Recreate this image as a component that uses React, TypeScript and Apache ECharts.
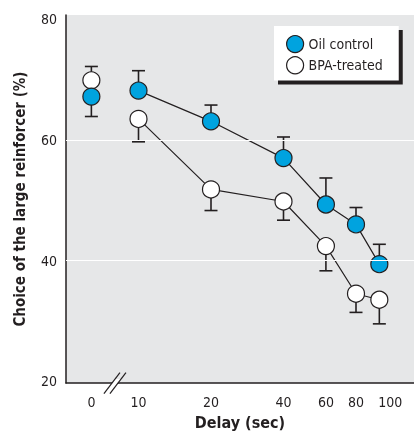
import React, { useEffect, useRef } from "react";
import * as echarts from "echarts";

const delays = [0, 10, 20, 40, 60, 80, 100];
const tickLabels = ["0", "10", "20", "40", "60", "80", "100"];
const oilMean = [67.2, 68.2, 63.1, 57.0, 49.3, 46.0, 39.4];
const oilErrEnd = [63.9, 71.5, 65.8, 60.5, 53.7, 48.8, 42.7];
const bpaMean = [69.9, 63.5, 51.8, 49.8, 42.4, 34.5, 33.5];
const bpaErrEnd = [72.2, 59.7, 48.3, 46.7, 38.3, 31.4, 29.5];
const yTicks = [20, 40, 60, 80];
const yGridLines = [40, 60];

const ZERO_POS = -0.65;
const pos = (d: number) => (d === 0 ? ZERO_POS : Math.log2(d / 10));
const BREAK_POS = ZERO_POS / 2;

const FONT = "'Liberation Sans Narrow', 'DejaVu Sans Condensed', 'Roboto', sans-serif";
const DARK = "#231f20";
const BLUE = "#00a3df";

export default function App() {
  const ref = useRef<HTMLDivElement>(null);
  useEffect(() => {
    if (!ref.current) return;
    const chart = echarts.init(ref.current, null, { renderer: "svg" });
    const pts = (means: number[], idx: number[]) => idx.map((i) => [pos(delays[i]), means[i]]);
    const errData = (means: number[], ends: number[]) => delays.map((d, i) => [pos(d), means[i], ends[i]]);
    const rest = [1, 2, 3, 4, 5, 6];
    const errSeries = (name: string, means: number[], ends: number[]) => ({
      type: "custom",
      name: name + "-err",
      z: 1,
      silent: true,
      data: errData(means, ends),
      clip: false,
      renderItem: (_p: any, api: any) => {
        const x = api.value(0);
        const a = api.coord([x, api.value(1)]);
        const b = api.coord([x, api.value(2)]);
        const st = { stroke: DARK, lineWidth: 1.6 };
        return {
          type: "group",
          children: [
            { type: "line", shape: { x1: a[0], y1: a[1], x2: b[0], y2: b[1] }, style: st },
            { type: "line", shape: { x1: b[0] - 6.5, y1: b[1], x2: b[0] + 6.5, y2: b[1] }, style: st },
          ],
        };
      },
    });
    const symStyle = (fill: string) => ({ color: fill, borderColor: DARK, borderWidth: 1.2, opacity: 1 });
    chart.setOption({
      animation: false,
      textStyle: { fontFamily: FONT },
      grid: { left: 66, right: 0, top: 15, bottom: 49, show: true, backgroundColor: "#e6e7e8", borderWidth: 0 },
      legend: {
        left: 274,
        top: 26,
        orient: "vertical",
        icon: "circle",
        itemWidth: 17,
        itemHeight: 17,
        itemGap: 3,
        itemTextGap: 10,
        padding: [9, 16, 6, 12],
        backgroundColor: "#ffffff",
        z: 5,
        data: ["Oil control", "BPA-treated"],
        textStyle: { fontFamily: FONT, fontSize: 14, color: DARK },
        itemStyle: { borderColor: DARK, borderWidth: 1.2 },
      },
      xAxis: {
        type: "value",
        min: -1,
        max: 3.8,
        name: "Delay (sec)",
        nameLocation: "middle",
        nameGap: 25,
        nameTextStyle: { fontFamily: FONT, fontSize: 16, fontWeight: "bold", color: DARK },
        axisLine: { show: true, onZero: false, lineStyle: { color: DARK, width: 1.5 } },
        axisTick: { show: false },
        splitLine: { show: false },
        axisLabel: {
          customValues: delays.map(pos),
          margin: 12,
          fontSize: 14,
          color: DARK,
          fontFamily: FONT,
          formatter: (v: number) => {
            const i = delays.findIndex((d) => Math.abs(pos(d) - v) < 1e-6);
            const t = i >= 0 ? tickLabels[i] : "";
            return i === delays.length - 1 ? "{r|" + t + "}" : t;
          },
          rich: { r: { fontSize: 14, color: DARK, fontFamily: FONT, padding: [0, 0, 0, 22] } },
        },
      },
      yAxis: {
        type: "value",
        min: 19.67,
        max: 80.74,
        name: "Choice of the large reinforcer (%)",
        nameLocation: "middle",
        nameGap: 39,
        nameTextStyle: { fontFamily: FONT, fontSize: 15, fontWeight: "bold", color: DARK },
        axisLine: { show: true, onZero: false, lineStyle: { color: DARK, width: 1.5 } },
        axisTick: { show: false },
        splitLine: { show: false },
        axisLabel: {
          customValues: yTicks,
          margin: 9,
          fontSize: 14,
          color: DARK,
          fontFamily: FONT,
          formatter: (v: number) => String(Math.round(v)),
        },
      },
      series: [
        {
          type: "line",
          name: "grid-lines",
          data: [],
          z: 0,
          silent: true,
          markLine: {
            silent: true,
            symbol: "none",
            label: { show: false },
            lineStyle: { color: "#ffffff", width: 1, type: "solid" },
            data: yGridLines.map((v) => ({ yAxis: v })),
          },
        },
        errSeries("BPA-treated", bpaMean, bpaErrEnd),
        errSeries("Oil control", oilMean, oilErrEnd),
        {
          type: "line",
          name: "BPA-treated",
          z: 3,
          data: pts(bpaMean, rest),
          symbol: "circle",
          symbolSize: 17,
          lineStyle: { color: DARK, width: 1.2 },
          itemStyle: symStyle("#ffffff"),
        },
        {
          type: "scatter",
          name: "BPA-treated",
          z: 3,
          data: pts(bpaMean, [0]),
          symbol: "circle",
          symbolSize: 17,
          itemStyle: symStyle("#ffffff"),
        },
        {
          type: "line",
          name: "Oil control",
          z: 4,
          data: pts(oilMean, rest),
          symbol: "circle",
          symbolSize: 17,
          lineStyle: { color: DARK, width: 1.2 },
          itemStyle: symStyle(BLUE),
        },
        {
          type: "scatter",
          name: "Oil control",
          z: 4,
          data: pts(oilMean, [0]),
          symbol: "circle",
          symbolSize: 17,
          itemStyle: symStyle(BLUE),
        },
      ],
    });
    const [bx, by] = chart.convertToPixel({ gridIndex: 0 }, [BREAK_POS, 19.67]) as number[];
    const lg = (chart as any).getModel().getComponent("legend");
    const lv = (chart as any).getViewOfComponentModel(lg);
    const rect = lv && lv.group ? lv.group.getBoundingRect() : null;
    const lx = rect ? lv.group.x + rect.x : 274;
    const ly = rect ? lv.group.y + rect.y : 26;
    const lw = rect ? rect.width : 126;
    const lh = rect ? rect.height : 52;
    const dx = 8, dy = 10.5, gap = 6;
    chart.setOption({
      graphic: [
        { type: "rect", z: 4, shape: { x: lx + 4, y: ly + 4, width: lw, height: lh }, style: { fill: DARK } },
        {
          type: "polygon",
          z: 10,
          shape: { points: [[bx - gap / 2 - 3, by + 4], [bx - gap / 2 + 3, by - 4], [bx + gap / 2 + 3, by - 4], [bx + gap / 2 - 3, by + 4]] },
          style: { fill: "#ffffff" },
        },
        { type: "line", z: 11, shape: { x1: bx - gap / 2 - dx, y1: by + dy, x2: bx - gap / 2 + dx, y2: by - dy }, style: { stroke: DARK, lineWidth: 1.2 } },
        { type: "line", z: 11, shape: { x1: bx + gap / 2 - dx, y1: by + dy, x2: bx + gap / 2 + dx, y2: by - dy }, style: { stroke: DARK, lineWidth: 1.2 } },
      ],
    });
    return () => chart.dispose();
  }, []);
  return <div ref={ref} style={{ position: "fixed", left: 0, top: 0, width: 414, height: 435 }} />;
}
